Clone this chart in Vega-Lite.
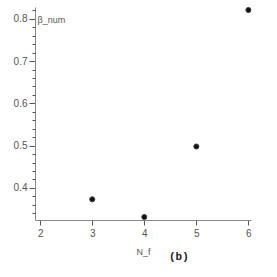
{
  "$schema": "https://vega.github.io/schema/vega-lite/v6.json",
  "autosize": "none",
  "padding": {"left": 35, "top": 7, "right": 26, "bottom": 57},
  "width": 216,
  "height": 213,
  "background": "white",
  "config": {
    "view": {"stroke": null},
    "axis": {"grid": false, "domainColor": "#888", "tickColor": "#555", "labelColor": "#555", "labelFont": "Liberation Sans", "labelFontSize": 10, "titleFont": "Liberation Sans", "titleFontWeight": "normal", "titleFontSize": 9, "titleColor": "#555"}
  },
  "title": {"text": "(b)", "orient": "top", "anchor": "start", "frame": "group", "dx": 134, "dy": 263, "offset": 0, "font": "Liberation Mono", "fontSize": 11, "fontWeight": "bold", "color": "#222", "baseline": "middle"},
  "data": {"values": [
    {"N_f": 3, "beta_num": 0.373},
    {"N_f": 4, "beta_num": 0.331},
    {"N_f": 5, "beta_num": 0.498},
    {"N_f": 6, "beta_num": 0.821}
  ]},
  "layer": [
    {
      "mark": {"type": "point", "filled": true, "fill": "#111", "stroke": "#444", "strokeWidth": 1, "size": 26, "opacity": 1},
      "encoding": {
        "x": {"field": "N_f", "type": "quantitative", "scale": {"domain": [1.9, 6.05], "nice": false, "zero": false},
          "axis": {"values": [2, 3, 4, 5, 6], "format": "d", "tickSize": 5, "labelPadding": 3, "title": "N_f", "titleAngle": 0, "titleX": 108, "titleY": 31, "titleAlign": "center", "titleBaseline": "middle"}},
        "y": {"field": "beta_num", "type": "quantitative", "scale": {"domain": [0.324, 0.828], "nice": false, "zero": false},
          "axis": {"values": [0.4, 0.5, 0.6, 0.7, 0.8], "format": ".1f", "tickSize": 6, "labelPadding": 2, "title": "β_num", "titleAngle": 0, "titleX": 2, "titleY": 12, "titleAlign": "left", "titleBaseline": "middle", "titleFontSize": 9}}
      }
    },
    {
      "mark": {"type": "point", "opacity": 0},
      "encoding": {
        "x": {"field": "N_f", "type": "quantitative"},
        "y": {"field": "beta_num", "type": "quantitative",
          "axis": {"orient": "left", "values": [0.34, 0.36, 0.38, 0.42, 0.44, 0.46, 0.48, 0.52, 0.54, 0.56, 0.58, 0.62, 0.64, 0.66, 0.68, 0.72, 0.74, 0.76, 0.78, 0.82], "labels": false, "domain": false, "tickSize": 3, "title": null}}
      }
    }
  ],
  "resolve": {"axis": {"y": "independent"}}
}
